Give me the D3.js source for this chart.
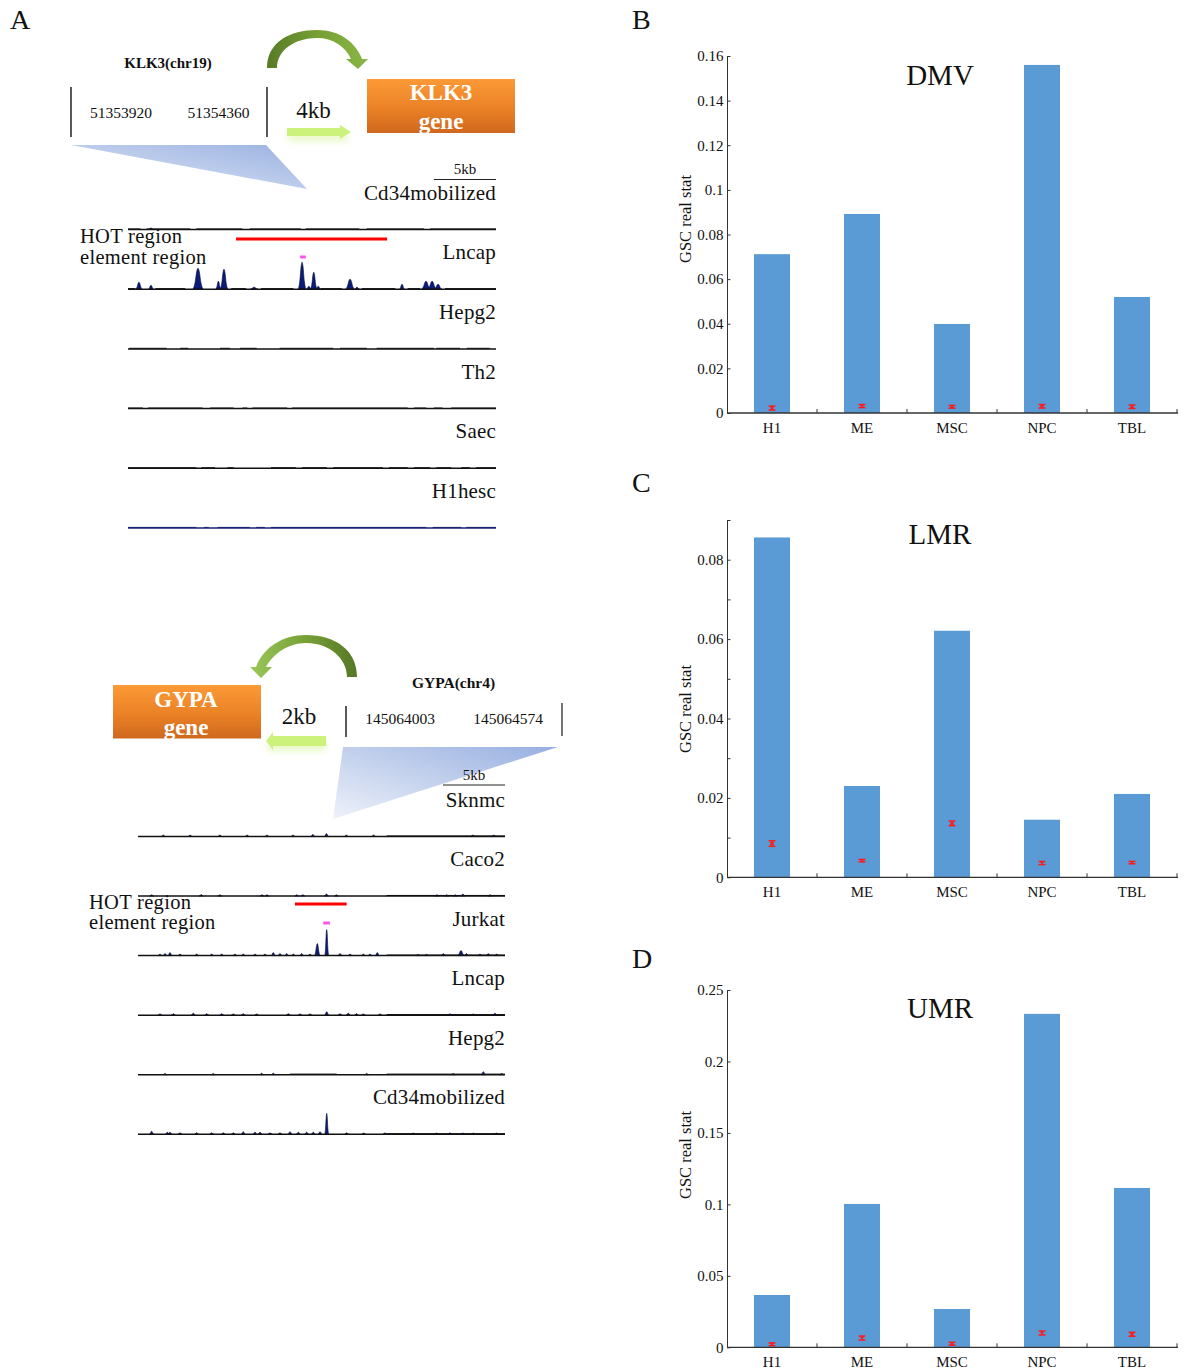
<!DOCTYPE html>
<html>
<head>
<meta charset="utf-8">
<script src="https://cdn.jsdelivr.net/npm/d3@7"></script>
<style>
  html, body { margin: 0; padding: 0; background: #fff; }
  svg { display: block; }
  text { font-family: "Liberation Serif", "Times New Roman", serif; fill: #111; }
</style>
</head>
<body>
<svg id="fig" width="1185" height="1372"></svg>
<script>
// ---------------- bar chart data (panels B, C, D) ----------------
const cellTypes = ["H1", "ME", "MSC", "NPC", "TBL"];

const dmvValues  = [0.0712, 0.0892, 0.0399, 0.1560, 0.0520];
const dmvNull    = [0.0022, 0.0031, 0.0028, 0.0030, 0.0028];
const dmvNullErr = [0.0009, 0.0007, 0.0006, 0.0008, 0.0008];

const lmrValues  = [0.0856, 0.0230, 0.0621, 0.0145, 0.0210];
const lmrNull    = [0.0085, 0.0042, 0.0136, 0.0036, 0.0037];
const lmrNullErr = [0.0007, 0.0003, 0.0006, 0.0004, 0.0003];

const umrValues  = [0.0366, 0.1003, 0.0268, 0.2333, 0.1115];
const umrNull    = [0.0021, 0.0065, 0.0025, 0.0100, 0.0091];
const umrNullErr = [0.0010, 0.0014, 0.0010, 0.0014, 0.0014];

const dmvTicks = [0, 0.02, 0.04, 0.06, 0.08, 0.1, 0.12, 0.14, 0.16];
const lmrTicks = [0, 0.01, 0.02, 0.03, 0.04, 0.05, 0.06, 0.07, 0.08, 0.09];
const lmrTickLabels = [0, 0.02, 0.04, 0.06, 0.08];
const umrTicks = [0, 0.05, 0.1, 0.15, 0.2, 0.25];

// ---------------- genome track data (panel A) ----------------
// positions in kb across each ~29.6 kb browser window; heights in signal units
const klk3Tracks = ["Cd34mobilized", "Lncap", "Hepg2", "Th2", "Saec", "H1hesc"];
const gypaTracks = ["Sknmc", "Caco2", "Jurkat", "Lncap", "Hepg2", "Cd34mobilized"];

const klk3Coords = ["51353920", "51354360"];
const gypaCoords = ["145064003", "145064574"];

const klk3HotRegion = [8.69, 20.84];
const klk3Element   = [13.84, 14.30];
const gypaHotRegion = [12.66, 16.83];
const gypaElement   = [14.94, 15.48];

// [position kb, height, half width kb]
const klk3Peaks = {
  Cd34mobilized: [[1.85, 1.5, 0.2]],
  Lncap: [[0.88, 7, 0.25], [1.85, 4, 0.2], [5.63, 21, 0.4], [7.27, 8, 0.2], [7.72, 20, 0.3],
          [10.14, 2, 0.3], [14.0, 27, 0.3], [14.55, 3, 0.2], [14.94, 17, 0.25], [15.3, 3, 0.2],
          [17.86, 10, 0.35], [18.42, 2, 0.2], [22.04, 5, 0.2], [23.97, 8, 0.35], [24.46, 8, 0.35],
          [24.94, 5, 0.3]],
  Hepg2: [], Th2: [], Saec: [], H1hesc: []
};
// [start kb, end kb] stretches of weak background signal
const klk3Background = {
  Cd34mobilized: [[0, 1.0], [1.5, 5.0], [5.5, 9.2], [9.8, 13.9], [14.3, 18.6], [19.2, 23.8], [24.3, 29.6]],
  Lncap: [[0, 0.6], [2.2, 4.6], [8.3, 9.5], [10.7, 13.3], [15.5, 17.2], [18.8, 21.5], [22.5, 23.5], [25.5, 29.6]],
  Hepg2: [[0.1, 3.1], [4.2, 4.85], [7.4, 8.2], [9.0, 10.35], [12.2, 16.5], [17.05, 19.2], [20.0, 24.6], [24.8, 26.7], [27.25, 29.1]],
  Th2: [[0, 1.2], [1.6, 6.0], [6.6, 8.5], [9.2, 9.6], [10.0, 12.8], [13.2, 22.5], [23.0, 24.0], [24.6, 25.3], [26.0, 29.6]],
  Saec: [[0, 5.5], [5.9, 7.0], [8.0, 8.5], [11.5, 13.5], [14.0, 16.0], [16.5, 20.5], [21.0, 22.5], [23.0, 24.3], [24.8, 26.0], [26.8, 27.5], [28.0, 29.6]],
  H1hesc: [[0, 5.5], [6.1, 6.5], [7.2, 9.8], [10.3, 11.0], [11.5, 24.0], [24.5, 26.8], [27.2, 29.6]]
};

const gypaPeaks = {
  Sknmc: [[2.04, 1.5], [4.2, 1.5], [6.6, 1.5], [8.8, 1.5], [10.4, 1.5], [12.5, 1.5], [14.1, 2], [15.2, 3],
          [16.8, 1.5], [19.0, 1.5], [27.0, 1.5], [28.7, 1.5]],
  Caco2: [[1.1, 1.2], [5.1, 1.5], [6.6, 1.2], [10.0, 1.2], [10.4, 1.2], [12.8, 1.2], [13.3, 1.2], [15.2, 2],
          [16.0, 1.2], [24.1, 1.2], [24.9, 1.2], [25.6, 1.2], [26.2, 2], [28.4, 1.2]],
  Jurkat: [[1.77, 1.5], [2.18, 2], [2.58, 3], [3.39, 1.5], [4.73, 1.5], [5.94, 1.5], [6.75, 1.5], [7.82, 1.5],
           [8.49, 1.5], [9.44, 1.5], [10.24, 1.5], [10.91, 3], [11.45, 2], [11.99, 2], [12.53, 1.5],
           [13.2, 2], [13.87, 1.5], [14.46, 12, 0.22], [15.22, 26, 0.15], [16.29, 2], [17.1, 1.5],
           [18.17, 1.5], [18.71, 1.5], [19.3, 3], [22.6, 1.2], [23.28, 1.2], [24.62, 2], [26.05, 5, 0.25],
           [26.5, 2], [27.58, 1.5], [28.25, 2], [28.93, 1.5]],
  Lncap: [[1.77, 1.2], [2.85, 1.5], [4.46, 2], [5.54, 1.5], [6.75, 1.5], [7.69, 1.2], [8.49, 1.5], [9.57, 1.2],
          [12.12, 1.5], [13.06, 1.2], [13.87, 1.2], [15.22, 3.5], [16.29, 1.5], [16.96, 2], [17.63, 1.5],
          [18.17, 1.2], [19.52, 1.2], [25.16, 1.5], [27.04, 1.2], [28.79, 2]],
  Hepg2: [[2.18, 1.2], [6.07, 1.2], [9.97, 1.5], [10.91, 1.5], [18.44, 1.2], [25.43, 1.2], [27.85, 3], [29.33, 1.2]],
  Cd34mobilized: [[1.1, 3], [2.37, 2], [2.58, 2], [3.39, 1.5], [4.73, 1.5], [5.94, 1.5], [6.88, 1.5], [7.69, 1.5],
                  [8.49, 2.5], [9.44, 2], [9.84, 2], [10.65, 1.5], [11.45, 1.5], [12.26, 2.5], [12.93, 2],
                  [13.6, 2], [14.14, 2], [14.68, 2.5], [15.22, 21, 0.15], [16.83, 1.5], [18.2, 1.2],
                  [19.92, 1.5], [22.2, 1.2], [24.09, 1.2], [25.16, 1.5], [26.2, 1.2], [27.04, 1.2], [28.9, 1.2]]
};
const gypaBackground = {
  Sknmc: [[20.05, 29.6]],
  Caco2: [[20.05, 29.6]],
  Jurkat: [[20.05, 29.6]],
  Lncap: [[20.05, 29.6]],
  Hepg2: [[12.26, 16.02], [20.05, 29.6]],
  Cd34mobilized: [[20.05, 29.6]]
};

// ---------------- drawing ----------------
const svg = d3.select("#fig");
svg.append("rect").attr("width", 1185).attr("height", 1372).attr("fill", "#fff");
const defs = svg.append("defs");

function linGrad(id, x1, y1, x2, y2, stops) {
  const g = defs.append("linearGradient").attr("id", id)
    .attr("x1", x1).attr("y1", y1).attr("x2", x2).attr("y2", y2);
  stops.forEach(([o, c]) => g.append("stop").attr("offset", o).attr("stop-color", c));
}
linGrad("orange", 0, 0, 0, 1, [[0, "#fc9a36"], [0.55, "#ea8126"], [1, "#cf681e"]]);
linGrad("arcTop", 0, 0, 1, 0, [[0, "#587a27"], [0.5, "#76a034"], [1, "#8ab647"]]);
linGrad("arcBot", 1, 0, 0, 0, [[0, "#557826"], [0.5, "#78a236"], [1, "#9cc75a"]]);
linGrad("triTop", 1, 0, 0, 1, [[0, "#9bb2e1"], [1, "#dde6f6"]]);
linGrad("triBot", 1, 0, 0, 1, [[0, "#97afe0"], [1, "#eef2fa"]]);

const glow = defs.append("filter").attr("id", "glow")
  .attr("x", "-40%").attr("y", "-80%").attr("width", "180%").attr("height", "300%");
glow.append("feGaussianBlur").attr("in", "SourceGraphic").attr("stdDeviation", 3.5).attr("result", "b");
glow.append("feOffset").attr("in", "b").attr("dy", 5).attr("result", "o");
glow.append("feComponentTransfer").attr("in", "o").attr("result", "f")
  .append("feFuncA").attr("type", "linear").attr("slope", 0.45);
const merge = glow.append("feMerge");
merge.append("feMergeNode").attr("in", "f");
merge.append("feMergeNode").attr("in", "SourceGraphic");

// panel letters
[["A", 10, 29], ["B", 632, 29], ["C", 632, 492], ["D", 632, 968]].forEach(([t, x, y]) =>
  svg.append("text").attr("x", x).attr("y", y).attr("font-size", 28).text(t));

// ---------- Panel A: KLK3 locus ----------
const A = svg.append("g");

A.append("text").attr("x", 168).attr("y", 68).attr("text-anchor", "middle")
  .attr("font-size", 15).attr("font-weight", "bold").text("KLK3(chr19)");
[71, 267].forEach(x => A.append("line").attr("x1", x).attr("x2", x).attr("y1", 87).attr("y2", 137)
  .attr("stroke", "#222").attr("stroke-width", 1.5));
A.append("text").attr("x", 121).attr("y", 118).attr("text-anchor", "middle").attr("font-size", 15.5).text(klk3Coords[0]);
A.append("text").attr("x", 218.5).attr("y", 118).attr("text-anchor", "middle").attr("font-size", 15.5).text(klk3Coords[1]);

// looping arrow over the distance label
A.append("path").attr("fill", "url(#arcTop)")
  .attr("d", "M267,68 L277,68 C277,50 295,38 317,38 C333,38 345,46 351,59 L346,59 L358,69 L368,59 L362,59 C355,42 340,30 317,30 C290,30 267,42 267,68 Z");
A.append("text").attr("x", 313.5).attr("y", 118).attr("text-anchor", "middle").attr("font-size", 23).text("4kb");
A.append("path").attr("fill", "#cdf27c").attr("filter", "url(#glow)")
  .attr("d", "M287,128 L340,128 L340,125 L351,132 L340,139 L340,136 L287,136 Z");

A.append("rect").attr("x", 367).attr("y", 79).attr("width", 148).attr("height", 54).attr("fill", "url(#orange)");
A.append("text").attr("x", 441).attr("y", 99.5).attr("text-anchor", "middle").attr("font-size", 23)
  .attr("font-weight", "bold").style("fill", "#fff").text("KLK3");
A.append("text").attr("x", 441).attr("y", 128.5).attr("text-anchor", "middle").attr("font-size", 23)
  .attr("font-weight", "bold").style("fill", "#fff").text("gene");

A.append("polygon").attr("points", "71,145 266,145 307,189").attr("fill", "url(#triTop)");

// ---------- Panel A: GYPA locus ----------
A.append("path").attr("fill", "url(#arcBot)")
  .attr("d", "M357,677 L347,677 C347,659 330,643 306,643 C288,643 273,654 266,667 L272,667 L261,678 L250,667 L256,667 C263,648 282,635 306,635 C335,635 357,650 357,677 Z");
A.append("rect").attr("x", 113).attr("y", 685).attr("width", 148).attr("height", 53.5).attr("fill", "url(#orange)");
A.append("text").attr("x", 186).attr("y", 707).attr("text-anchor", "middle").attr("font-size", 23)
  .attr("font-weight", "bold").style("fill", "#fff").text("GYPA");
A.append("text").attr("x", 186).attr("y", 734.5).attr("text-anchor", "middle").attr("font-size", 23)
  .attr("font-weight", "bold").style("fill", "#fff").text("gene");
A.append("text").attr("x", 299).attr("y", 724).attr("text-anchor", "middle").attr("font-size", 23).text("2kb");
A.append("path").attr("fill", "#cdf27c").attr("filter", "url(#glow)")
  .attr("d", "M326,736 L273,736 L273,732 L266,741 L273,750 L273,746 L326,746 Z");

A.append("text").attr("x", 453.5).attr("y", 687.5).attr("text-anchor", "middle")
  .attr("font-size", 15.5).attr("font-weight", "bold").text("GYPA(chr4)");
A.append("line").attr("x1", 346).attr("x2", 346).attr("y1", 706).attr("y2", 737).attr("stroke", "#222").attr("stroke-width", 1.5);
A.append("line").attr("x1", 562).attr("x2", 562).attr("y1", 703).attr("y2", 736).attr("stroke", "#444").attr("stroke-width", 1.5);
A.append("text").attr("x", 400).attr("y", 724).attr("text-anchor", "middle").attr("font-size", 15.5).text(gypaCoords[0]);
A.append("text").attr("x", 508).attr("y", 724).attr("text-anchor", "middle").attr("font-size", 15.5).text(gypaCoords[1]);
A.append("polygon").attr("points", "343,747 558,747 333,819").attr("fill", "url(#triBot)");

// ---------- genome browser tracks ----------
function drawBrowser(cfg) {
  const g = A.append("g");
  const x = d3.scaleLinear().domain([0, 29.6]).range(cfg.xRange);
  const h = d3.scaleLinear().domain([0, 30]).range([0, 30]);

  // scale bar (5 kb)
  g.append("line").attr("x1", x(24.6)).attr("x2", x(29.6)).attr("y1", cfg.scaleY).attr("y2", cfg.scaleY)
    .attr("stroke", "#222").attr("stroke-width", 1);
  g.append("text").attr("x", (x(24.6) + x(29.6)) / 2).attr("y", cfg.scaleY - 5.5)
    .attr("text-anchor", "middle").attr("font-size", 15).text("5kb");

  cfg.tracks.forEach((name, i) => {
    const base = cfg.firstBase + i * cfg.step;
    const tg = g.append("g");
    tg.append("text").attr("x", cfg.xRange[1]).attr("y", base - 30)
      .attr("text-anchor", "end").attr("font-size", 21).attr("letter-spacing", 0.2).text(name);

    // weak background signal
    (cfg.background[name] || []).forEach(([s, e]) =>
      tg.append("rect").attr("x", x(s)).attr("width", x(e) - x(s))
        .attr("y", base - h(1.1)).attr("height", h(1.1)).attr("fill", cfg.color(name)));

    // peaks
    const area = d3.area()
      .x(d => x(d[0])).y0(base).y1(d => base - h(d[1]))
      .curve(d3.curveMonotoneX);
    (cfg.peaks[name] || []).forEach(p => {
      const [pos, ht] = p;
      const w = p[2] || 0.17;
      const pts = [[pos - w, 0], [pos - w * 0.6, ht * 0.3], [pos - w * 0.25, ht * 0.85], [pos, ht],
                   [pos + w * 0.25, ht * 0.85], [pos + w * 0.6, ht * 0.3], [pos + w, 0]];
      tg.append("path").attr("d", area(pts)).attr("fill", "#0b1c78")
        .attr("stroke", "#050a30").attr("stroke-width", 0.6);
    });

    tg.append("line").attr("x1", cfg.xRange[0]).attr("x2", cfg.xRange[1])
      .attr("y1", base).attr("y2", base).attr("stroke", cfg.color(name)).attr("stroke-width", 1.5);
  });

  // HOT region and element region markers
  const hotY = cfg.hotY;
  g.append("line").attr("x1", x(cfg.hot[0])).attr("x2", x(cfg.hot[1])).attr("y1", hotY).attr("y2", hotY)
    .attr("stroke", "#ff0000").attr("stroke-width", 3);
  g.append("line").attr("x1", x(cfg.element[0])).attr("x2", x(cfg.element[1]))
    .attr("y1", cfg.elementY).attr("y2", cfg.elementY)
    .attr("stroke", "#ff55ee").attr("stroke-width", 3);
  g.append("text").attr("x", cfg.labelX).attr("y", cfg.hotLabelY).attr("font-size", 20.5)
    .attr("letter-spacing", 0.3).text("HOT region");
  g.append("text").attr("x", cfg.labelX).attr("y", cfg.elementLabelY).attr("font-size", 20.5)
    .attr("letter-spacing", 0.3).text("element region");
}

drawBrowser({
  tracks: klk3Tracks, peaks: klk3Peaks, background: klk3Background,
  xRange: [128, 496], firstBase: 229.5, step: 59.7, scaleY: 179.5,
  hot: klk3HotRegion, element: klk3Element, hotY: 239, elementY: 257,
  labelX: 80, hotLabelY: 243, elementLabelY: 263.5,
  color: n => n === "H1hesc" ? "#1b2470" : "#111"
});
drawBrowser({
  tracks: gypaTracks, peaks: gypaPeaks, background: gypaBackground,
  xRange: [138, 505], firstBase: 836.5, step: 59.55, scaleY: 785,
  hot: gypaHotRegion, element: gypaElement, hotY: 904, elementY: 923,
  labelX: 89, hotLabelY: 908.5, elementLabelY: 929,
  color: () => "#111"
});

// ---------- Panels B, C, D: bar charts ----------
const fmt = d => String(+d.toFixed(4));

function barPanel(cfg) {
  const g = svg.append("g");
  const x = d3.scaleBand().domain(cellTypes).range([727, 1177]).paddingInner(0.6).paddingOuter(0.3);
  const y = d3.scaleLinear().domain([0, cfg.max]).range([cfg.bottom, cfg.top]);

  g.selectAll("rect.bar").data(cfg.values).join("rect").attr("class", "bar")
    .attr("x", (d, i) => x(cellTypes[i])).attr("width", x.bandwidth())
    .attr("y", d => y(d)).attr("height", d => y(0) - y(d)).attr("fill", "#5b9bd5");

  // background (null) statistic with error bars
  const eg = g.append("g").attr("stroke", "#ff1a1a").attr("stroke-width", 1.4).attr("fill", "none");
  cfg.nullMean.forEach((m, i) => {
    const cx = x(cellTypes[i]) + x.bandwidth() / 2;
    const lo = y(m - cfg.nullErr[i]), hi = y(m + cfg.nullErr[i]);
    eg.append("line").attr("x1", cx).attr("x2", cx).attr("y1", lo).attr("y2", hi);
    eg.append("line").attr("x1", cx - 3.5).attr("x2", cx + 3.5).attr("y1", lo).attr("y2", lo);
    eg.append("line").attr("x1", cx - 3.5).attr("x2", cx + 3.5).attr("y1", hi).attr("y2", hi);
    eg.append("path").attr("d", `M${cx - 2},${y(m) - 1.5}L${cx + 2},${y(m) + 1.5}M${cx - 2},${y(m) + 1.5}L${cx + 2},${y(m) - 1.5}`)
      .attr("stroke-width", 1.1);
  });

  // y axis with inward ticks
  const yAxis = d3.axisLeft(y).tickValues(cfg.ticks).tickSize(-3.5).tickSizeOuter(0).tickPadding(3.5)
    .tickFormat(d => cfg.labelled.some(v => Math.abs(v - d) < 1e-9) ? fmt(d) : "");
  const ya = g.append("g").attr("transform", "translate(727,0)").call(yAxis);
  ya.selectAll("text").attr("font-size", 15).style("font-family", '"Liberation Serif", serif').style("fill", "#111");
  ya.selectAll("path, line").attr("stroke", "#333");

  // x axis: category labels, ticks at category boundaries
  const xAxis = d3.axisBottom(x).tickSize(0).tickPadding(9.5);
  const xa = g.append("g").attr("transform", `translate(0,${y(0)})`).call(xAxis);
  xa.select("path").remove();
  xa.selectAll("text").attr("font-size", 15).style("font-family", '"Liberation Serif", serif').style("fill", "#111");
  g.append("line").attr("x1", 727).attr("x2", 1178).attr("y1", y(0)).attr("y2", y(0)).attr("stroke", "#333").attr("stroke-width", 1.3);
  const gap = x.step() * x.paddingInner() / 2;
  g.selectAll("line.bound").data(cellTypes).join("line").attr("class", "bound")
    .attr("x1", d => x(d) + x.bandwidth() + gap).attr("x2", d => x(d) + x.bandwidth() + gap)
    .attr("y1", y(0)).attr("y2", y(0) - 4).attr("stroke", "#333");

  g.append("text").attr("transform", `translate(691,${cfg.labelY}) rotate(-90)`)
    .attr("text-anchor", "middle").attr("font-size", 16.5).text("GSC real stat");
  g.append("text").attr("x", 940).attr("y", cfg.titleY).attr("text-anchor", "middle")
    .attr("font-size", 29).text(cfg.title);
}

barPanel({ values: dmvValues, nullMean: dmvNull, nullErr: dmvNullErr, max: 0.16, top: 56, bottom: 413,
  ticks: dmvTicks, labelled: dmvTicks, title: "DMV", titleY: 85, labelY: 219 });
barPanel({ values: lmrValues, nullMean: lmrNull, nullErr: lmrNullErr, max: 0.09, top: 520, bottom: 877.3,
  ticks: lmrTicks, labelled: lmrTickLabels, title: "LMR", titleY: 544, labelY: 709 });
barPanel({ values: umrValues, nullMean: umrNull, nullErr: umrNullErr, max: 0.25, top: 990, bottom: 1347.3,
  ticks: umrTicks, labelled: umrTicks, title: "UMR", titleY: 1018, labelY: 1155 });
</script>
</body>
</html>
